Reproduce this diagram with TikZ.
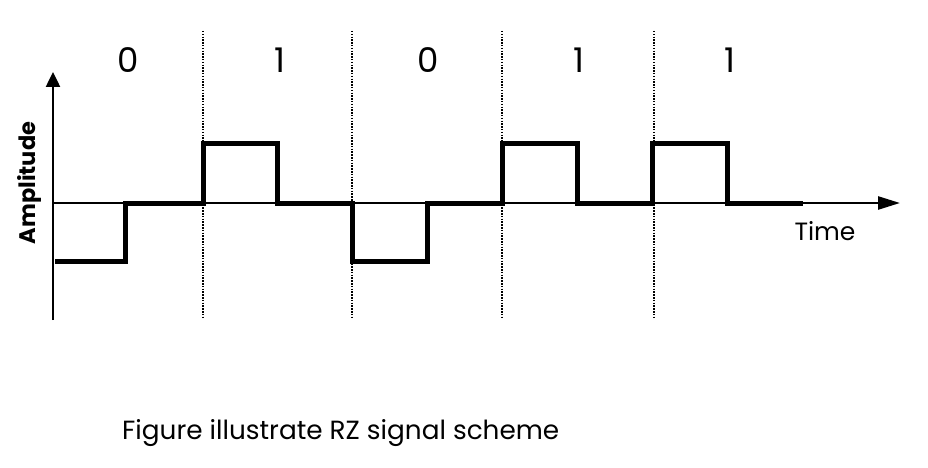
\documentclass[tikz,border=0pt]{standalone}
\usepackage{fontspec}
\setmainfont{Poppins}
\usetikzlibrary{arrows.meta}
\begin{document}
\begin{tikzpicture}[x=1pt,y=-1pt,
  yaxis/.style={line width=2.5pt,-{Triangle[length=15pt,width=14pt]}},
  xaxis/.style={line width=2.5pt,-{Triangle[length=22pt,width=13pt]}},
  sig/.style={line width=5pt,line join=miter,line cap=butt},
  divider/.style={line width=2.2pt,dash pattern=on 1.5pt off 1.3pt,black},
  bit/.style={font=\fontsize{34}{34}\selectfont,anchor=base}]
\useasboundingbox (0,0) rectangle (928,468);
% dividers
\foreach \x/\n in {203/d1,352/d2,502/d3,654/d4}{
  \coordinate (\n t) at (\x,31);
  \coordinate (\n b) at (\x,318);
  \draw[divider] (\n t) -- (\n b);
}
% axes
\coordinate (origin) at (53,203);
\coordinate (ybot) at (53,320);
\coordinate (ytop) at (53,72);
\coordinate (xend) at (900,203);
\draw[yaxis] (ybot) -- (ytop);
\draw[xaxis] (origin) -- (xend);
% signal
\draw[sig] (55,261) -- (125,261) -- (125,203) -- (203,203) -- (203,143) -- (277,143) -- (277,203)
  -- (352,203) -- (352,261) -- (427,261) -- (427,203) -- (502,203) -- (502,143) -- (577,143)
  -- (577,203) -- (652,203) -- (652,143) -- (727,143) -- (727,203) -- (803,203);
% bits
\node[bit] (b1) at (128,73) {0};
\node[bit] (b2) at (280,73) {1};
\node[bit] (b3) at (428,73) {0};
\node[bit] (b4) at (579,73) {1};
\node[bit] (b5) at (730,73) {1};
% labels
\node[font=\fontsize{25}{25}\selectfont,anchor=base] (time) at (825,240) {Time};
\node[font=\bfseries\fontsize{22.5}{22.5}\selectfont,rotate=90,anchor=base] (amp) at (35,183) {Amplitude};
\node[font=\fontsize{26.3}{26.3}\selectfont,anchor=base west,inner sep=0pt] (cap) at (122,439) {Figure illustrate RZ signal scheme};
\end{tikzpicture}
\end{document}
